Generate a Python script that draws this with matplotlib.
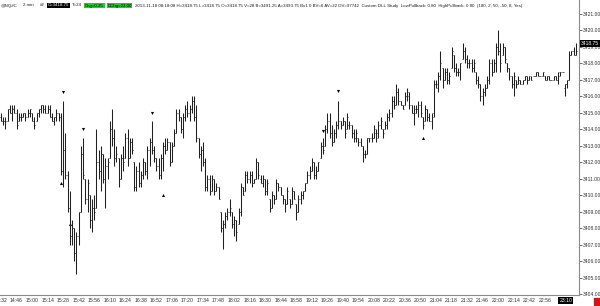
import matplotlib
matplotlib.use('Agg')
import matplotlib.pyplot as plt
from matplotlib.patches import Rectangle
from datetime import datetime, timedelta
import numpy as np

plt.rcParams['font.family'] = ['Liberation Sans', 'DejaVu Sans']

# 2 min bars, 14:32 - 22:14 then 22:30 - 23:24 (maintenance break)
opens = [
    3414.75, 3414.5, 3414.5, 3414.5, 3415.25, 3415.0, 3415.25, 3415.0, 3414.5, 3414.75,
    3414.75, 3415.0, 3414.75, 3415.0, 3415.0, 3414.5, 3414.5, 3415.0, 3415.25, 3415.5,
    3415.25, 3415.0, 3415.25, 3414.75, 3414.5, 3414.75, 3415.0, 3414.75, 3411.5, 3412.75,
    3411.25, 3409.25, 3407.5, 3408.0, 3406.5, 3407.5, 3409.0, 3412.5, 3411.0, 3409.75,
    3410.0, 3408.5, 3409.25, 3409.25, 3412.0, 3411.5, 3412.5, 3411.0, 3411.75, 3412.25,
    3414.0, 3413.5, 3412.25, 3412.25, 3411.0, 3412.25, 3412.25, 3413.5, 3412.25, 3413.25,
    3412.0, 3410.5, 3411.5, 3410.75, 3411.25, 3412.0, 3411.5, 3412.75, 3413.25, 3412.75,
    3412.25, 3411.75, 3411.25, 3412.25, 3413.0, 3412.75, 3413.25, 3412.0, 3413.0, 3413.75,
    3415.0, 3414.75, 3414.0, 3414.75, 3415.25, 3415.0, 3415.25, 3415.75, 3414.75, 3413.5,
    3412.5, 3412.75, 3412.0, 3410.5, 3411.0, 3410.25, 3411.0, 3410.25, 3410.5, 3409.0,
    3408.0, 3408.25, 3408.75, 3409.0, 3409.0, 3408.25, 3408.5, 3408.25, 3409.0, 3410.5,
    3410.25, 3411.25, 3411.0, 3411.25, 3410.75, 3411.0, 3412.0, 3411.0, 3410.75, 3411.0,
    3410.25, 3409.75, 3409.25, 3410.0, 3409.75, 3410.75, 3410.5, 3410.0, 3409.75, 3409.5,
    3409.75, 3409.5, 3410.25, 3409.5, 3409.0, 3409.75, 3410.0, 3410.25, 3410.75, 3411.25,
    3411.5, 3412.0, 3411.25, 3411.5, 3412.25, 3413.0, 3413.0, 3414.0, 3414.5, 3413.75,
    3413.25, 3413.75, 3414.25, 3414.5, 3414.25, 3414.5, 3414.0, 3414.25, 3414.25, 3413.75,
    3413.5, 3413.5, 3413.25, 3413.0, 3412.5, 3412.5, 3413.5, 3413.5, 3413.5, 3413.75,
    3413.75, 3414.25, 3414.0, 3414.0, 3414.25, 3414.75, 3415.0, 3415.75, 3415.5, 3416.25,
    3415.75, 3415.5, 3415.5, 3416.0, 3416.0, 3415.5, 3415.0, 3415.0, 3415.25, 3415.5,
    3414.75, 3414.5, 3415.25, 3414.75, 3414.5, 3415.0, 3416.75, 3416.5, 3417.25, 3417.75,
    3417.0, 3417.5, 3417.0, 3417.75, 3418.5, 3417.75, 3417.5, 3417.5, 3418.25, 3418.75,
    3418.25, 3418.0, 3418.0, 3417.75, 3417.5, 3417.0, 3416.75, 3416.0, 3416.25, 3416.5,
    3417.0, 3418.0, 3417.5, 3418.0, 3419.0, 3418.75, 3418.5, 3419.0, 3418.0, 3417.75,
    3417.25, 3416.75, 3417.0, 3416.75, 3417.0, 3416.75, 3417.0, 3417.25, 3417.0, 3417.25,
    3417.25, 3417.25, 3417.5, 3417.25, 3417.25, 3417.25, 3417.0, 3417.25, 3417.0, 3417.0,
    3417.25, 3417.0, 3417.5, 3417.5, 3416.5, 3416.75, 3417.0, 3418.5, 3418.75, 3418.5,
]
highs = [
    3415.0, 3414.75, 3414.75, 3415.25, 3415.5, 3415.5, 3415.5, 3415.25, 3415.0, 3415.0,
    3415.0, 3415.0, 3415.25, 3415.25, 3415.0, 3414.75, 3415.0, 3415.25, 3415.5, 3415.5,
    3415.5, 3415.5, 3415.5, 3415.0, 3414.75, 3415.25, 3415.0, 3415.0, 3415.75, 3413.75,
    3411.5, 3410.25, 3408.5, 3408.0, 3407.75, 3409.0, 3413.0, 3413.5, 3411.0, 3411.0,
    3410.0, 3409.75, 3410.0, 3414.0, 3412.75, 3413.0, 3412.5, 3412.25, 3412.25, 3414.5,
    3415.25, 3414.0, 3413.0, 3412.25, 3412.5, 3413.0, 3413.75, 3414.0, 3413.5, 3413.5,
    3412.0, 3411.75, 3412.0, 3411.5, 3412.25, 3412.0, 3413.0, 3413.5, 3414.5, 3413.0,
    3412.25, 3412.25, 3412.5, 3413.25, 3413.5, 3413.5, 3413.25, 3413.25, 3414.0, 3415.25,
    3415.25, 3414.75, 3415.0, 3415.5, 3415.75, 3415.5, 3416.0, 3416.0, 3415.5, 3413.5,
    3413.0, 3413.25, 3412.25, 3411.25, 3411.25, 3411.25, 3411.0, 3410.75, 3410.5, 3409.0,
    3408.5, 3409.0, 3409.25, 3409.75, 3409.0, 3408.75, 3408.5, 3409.25, 3410.75, 3410.5,
    3411.5, 3411.5, 3411.5, 3411.5, 3411.0, 3412.25, 3412.0, 3411.25, 3411.25, 3411.0,
    3411.0, 3409.75, 3410.25, 3410.0, 3411.0, 3410.75, 3410.5, 3410.0, 3409.75, 3410.5,
    3409.75, 3410.5, 3410.25, 3409.5, 3410.0, 3410.25, 3410.25, 3410.75, 3411.5, 3411.75,
    3412.25, 3412.0, 3411.75, 3412.0, 3413.25, 3413.5, 3414.25, 3415.0, 3415.0, 3414.25,
    3414.0, 3414.5, 3415.75, 3414.5, 3414.75, 3414.5, 3415.0, 3414.5, 3414.25, 3414.0,
    3414.0, 3413.5, 3413.5, 3413.0, 3412.75, 3413.5, 3413.5, 3413.75, 3414.25, 3414.0,
    3414.5, 3414.75, 3414.0, 3414.5, 3415.0, 3415.25, 3416.0, 3416.0, 3416.75, 3416.5,
    3415.75, 3415.5, 3416.25, 3416.5, 3416.25, 3415.5, 3415.5, 3415.5, 3415.75, 3415.75,
    3414.75, 3415.5, 3415.25, 3415.0, 3415.0, 3417.0, 3417.0, 3417.5, 3418.75, 3417.75,
    3417.75, 3417.75, 3417.5, 3419.0, 3418.5, 3418.0, 3417.75, 3418.0, 3419.25, 3419.0,
    3418.5, 3418.25, 3418.25, 3418.25, 3417.5, 3417.25, 3416.75, 3416.5, 3416.75, 3417.25,
    3418.25, 3418.25, 3418.25, 3419.25, 3420.0, 3419.25, 3419.25, 3419.0, 3418.0, 3417.75,
    3417.25, 3417.5, 3417.0, 3417.25, 3417.0, 3417.0, 3417.25, 3417.25, 3417.25, 3417.25,
    3417.25, 3417.5, 3417.5, 3417.25, 3417.5, 3417.25, 3417.25, 3417.25, 3417.0, 3417.25,
    3417.25, 3417.5, 3417.5, 3417.5, 3416.75, 3417.0, 3418.75, 3418.75, 3419.0, 3419.25,
]
lows = [
    3414.5, 3414.25, 3414.0, 3414.5, 3415.0, 3414.5, 3415.0, 3414.0, 3414.5, 3414.5,
    3414.75, 3414.5, 3414.75, 3414.75, 3414.5, 3414.0, 3414.5, 3414.75, 3415.0, 3415.0,
    3415.0, 3415.0, 3414.75, 3414.5, 3414.25, 3414.5, 3414.5, 3411.25, 3410.5, 3411.0,
    3409.0, 3407.0, 3407.0, 3406.0, 3405.25, 3407.0, 3409.0, 3411.0, 3409.5, 3409.0,
    3408.0, 3407.75, 3408.5, 3409.25, 3411.0, 3410.25, 3410.75, 3409.25, 3411.0, 3412.25,
    3413.0, 3411.75, 3412.0, 3410.5, 3411.0, 3411.5, 3412.25, 3411.75, 3412.25, 3412.5,
    3410.25, 3410.25, 3410.5, 3410.5, 3411.0, 3411.25, 3411.0, 3411.75, 3412.5, 3412.0,
    3411.5, 3411.0, 3411.0, 3411.5, 3412.5, 3412.75, 3411.75, 3412.0, 3413.0, 3413.75,
    3414.5, 3413.75, 3413.5, 3414.5, 3414.75, 3414.5, 3415.0, 3414.5, 3413.25, 3412.25,
    3411.5, 3411.75, 3410.25, 3410.25, 3410.0, 3410.25, 3410.0, 3410.25, 3409.75, 3407.75,
    3406.75, 3408.0, 3408.5, 3408.75, 3408.0, 3407.5, 3407.25, 3408.25, 3408.75, 3410.0,
    3410.25, 3410.75, 3410.75, 3410.5, 3410.75, 3411.0, 3411.0, 3410.75, 3410.5, 3410.0,
    3410.0, 3409.0, 3409.25, 3409.5, 3409.75, 3410.25, 3410.0, 3409.5, 3409.0, 3409.5,
    3409.25, 3409.5, 3409.75, 3408.5, 3409.0, 3409.5, 3409.75, 3410.25, 3410.75, 3411.0,
    3411.5, 3411.0, 3411.0, 3411.5, 3412.25, 3412.5, 3413.0, 3413.75, 3413.5, 3413.0,
    3413.25, 3413.5, 3414.0, 3414.0, 3414.25, 3413.5, 3414.0, 3414.0, 3413.5, 3413.25,
    3413.25, 3413.0, 3413.0, 3412.0, 3412.25, 3412.5, 3413.25, 3413.25, 3413.5, 3413.25,
    3413.5, 3414.0, 3413.5, 3414.0, 3414.0, 3414.5, 3414.75, 3415.25, 3415.5, 3415.5,
    3415.5, 3415.25, 3415.5, 3415.75, 3415.25, 3415.0, 3414.25, 3415.0, 3414.75, 3414.75,
    3414.0, 3414.5, 3414.5, 3414.5, 3414.0, 3414.75, 3416.5, 3416.25, 3417.0, 3416.5,
    3417.0, 3416.75, 3416.75, 3417.75, 3417.5, 3417.25, 3417.25, 3417.0, 3418.25, 3418.0,
    3417.75, 3417.75, 3417.5, 3417.5, 3416.75, 3416.5, 3415.75, 3415.5, 3416.0, 3416.5,
    3416.75, 3417.25, 3417.5, 3417.5, 3418.5, 3417.5, 3418.5, 3418.0, 3417.5, 3417.0,
    3416.5, 3416.0, 3416.5, 3416.75, 3416.75, 3416.75, 3417.0, 3416.75, 3417.0, 3417.0,
    3417.25, 3417.25, 3417.25, 3417.25, 3417.25, 3417.0, 3417.0, 3417.0, 3417.0, 3417.0,
    3417.0, 3416.75, 3417.25, 3417.5, 3416.0, 3416.5, 3417.0, 3418.5, 3418.5, 3418.5,
]
closes = [
    3414.5, 3414.5, 3414.5, 3415.25, 3415.0, 3415.25, 3415.0, 3414.25, 3414.75, 3414.75,
    3415.0, 3414.75, 3415.0, 3415.25, 3414.5, 3414.25, 3415.0, 3415.25, 3415.5, 3415.25,
    3415.0, 3415.25, 3414.75, 3414.5, 3414.75, 3415.0, 3414.75, 3411.5, 3412.75, 3411.25,
    3409.25, 3407.5, 3408.0, 3406.5, 3407.5, 3409.0, 3412.5, 3411.25, 3409.75, 3410.75,
    3408.5, 3409.25, 3409.0, 3412.0, 3411.5, 3412.5, 3411.0, 3411.75, 3412.0, 3414.0,
    3413.5, 3412.25, 3412.5, 3411.0, 3412.25, 3412.0, 3413.5, 3412.25, 3413.25, 3412.75,
    3410.5, 3411.5, 3410.75, 3411.25, 3412.0, 3411.5, 3412.75, 3413.25, 3412.75, 3412.25,
    3411.75, 3411.25, 3412.25, 3413.0, 3412.75, 3413.25, 3412.0, 3413.0, 3413.75, 3415.0,
    3414.75, 3414.0, 3414.75, 3415.25, 3415.0, 3415.25, 3415.75, 3414.75, 3413.5, 3412.5,
    3412.75, 3412.0, 3410.5, 3411.0, 3410.25, 3411.0, 3410.25, 3410.5, 3409.75, 3408.0,
    3408.25, 3408.75, 3409.0, 3409.25, 3408.25, 3408.5, 3407.75, 3409.0, 3410.5, 3410.0,
    3411.25, 3411.0, 3411.25, 3410.75, 3411.0, 3412.0, 3411.25, 3410.75, 3411.0, 3410.25,
    3410.75, 3409.25, 3410.0, 3409.75, 3410.75, 3410.5, 3410.0, 3409.75, 3409.5, 3410.25,
    3409.5, 3410.25, 3409.75, 3409.0, 3409.75, 3410.0, 3410.25, 3410.75, 3411.25, 3411.5,
    3412.0, 3411.25, 3411.5, 3412.0, 3413.0, 3412.75, 3414.0, 3414.5, 3413.75, 3413.25,
    3413.75, 3414.25, 3414.5, 3414.25, 3414.5, 3413.75, 3414.75, 3414.25, 3413.75, 3413.5,
    3413.75, 3413.25, 3413.0, 3412.5, 3412.5, 3413.5, 3413.5, 3413.5, 3414.0, 3413.5,
    3414.25, 3414.5, 3413.75, 3414.25, 3414.75, 3415.0, 3415.75, 3415.5, 3416.25, 3415.75,
    3415.5, 3415.25, 3416.0, 3416.25, 3415.5, 3415.0, 3415.25, 3415.25, 3415.5, 3415.0,
    3414.25, 3415.25, 3414.75, 3414.5, 3414.75, 3416.75, 3416.75, 3417.25, 3418.0, 3417.0,
    3417.5, 3417.0, 3417.25, 3418.75, 3417.75, 3417.5, 3417.5, 3418.0, 3418.75, 3418.25,
    3418.0, 3418.0, 3417.75, 3418.0, 3417.0, 3416.75, 3416.0, 3416.25, 3416.5, 3417.0,
    3418.0, 3417.5, 3418.0, 3419.0, 3418.75, 3418.0, 3419.0, 3418.25, 3417.75, 3417.25,
    3416.75, 3417.25, 3416.75, 3417.0, 3416.75, 3417.0, 3417.25, 3417.0, 3417.25, 3417.0,
    3417.25, 3417.5, 3417.25, 3417.25, 3417.5, 3417.0, 3417.25, 3417.0, 3417.0, 3417.25,
    3417.0, 3417.25, 3417.5, 3417.5, 3416.75, 3417.0, 3418.5, 3418.75, 3418.5, 3418.75,
]

# study markers (bar index, price)
down_bars = [28, 37, 68, 145, 152]
down_prices = [3416.25, 3414.0, 3415.0, 3413.9, 3416.3]
up_bars = [27, 31, 73, 190]
up_prices = [3410.75, 3408.25, 3410.0, 3413.5]

time_labels = ['14:32', '14:46', '15:00', '15:14', '15:28', '15:42', '15:56', '16:10',
               '16:24', '16:38', '16:52', '17:06', '17:20', '17:34', '17:48', '18:02',
               '18:16', '18:30', '18:44', '18:58', '19:12', '19:26', '19:40', '19:54',
               '20:08', '20:22', '20:36', '20:50', '21:04', '21:18', '21:32', '21:46',
               '22:00', '22:14', '22:42', '22:56']
current_time = '23:10'
last_price = '3418.75'

# header pieces: (text, box colour)
header = [
    ('@NQ#C', None), ('2 min', None), ('#2', None), ('C=3418.75', 'black'),
    ('T=24', None), ('Chg=0.25', '#22cc22'), ('DChg=23.00', '#22cc22'),
    ('2013-11-18 08:18:08 H=3418.75 L=3418.75 O=3418.75 V=28 B=3491.25 A=3493.75 '
     'Bx1 0 BV=6 AV=22 DV=97742  Custom DLL Study  LowPullback: 0.80  '
     'HighPullback: 0.80  (180, 2, 50, -50, 8, Yes)', None),
]
header_gaps = [1.3, 1.3, 0.7, 0.5, 0.7, 0.7, 0.6, 0]

# bar times
bar_times = []
t = datetime(2013, 11, 18, 14, 32)
while len(bar_times) < len(closes):
    bar_times.append(t.strftime('%H:%M'))
    t += timedelta(minutes=2)
    if t.strftime('%H:%M') == '22:16':
        t = datetime(2013, 11, 18, 22, 30)

x = np.arange(len(closes))

W, H = 600, 306
fig = plt.figure(figsize=(W / 100, H / 100), dpi=100)
ax = fig.add_axes([0, 1 - 295 / H, 579 / W, 295 / H])

ax.vlines(x, lows, highs, color='#202020', lw=0.75)
ax.hlines(opens, x - 0.45, x, color='#202020', lw=0.6)
ax.hlines(closes, x, x + 0.45, color='#202020', lw=0.6)

ax.scatter(down_bars, down_prices, marker='v', s=5, color='black', lw=0)
ax.scatter(up_bars, up_prices, marker='^', s=5, color='black', lw=0)

ax.set_xlim(-0.45, 260.4)
ax.set_ylim(3403.95, 3421.85)

ax.set_xticks([bar_times.index(s) for s in time_labels])
ax.set_xticklabels(time_labels)
ax.yaxis.tick_right()
ax.set_yticks(np.arange(3404, 3422))
ax.set_yticklabels(['%.2f' % v for v in np.arange(3404, 3422)])
ax.tick_params(axis='y', labelsize=3.6, colors='#303030', length=2, width=0.5, pad=0.8)
ax.tick_params(axis='x', labelsize=3.7, colors='#303030', length=0, pad=2.4)

for s in ['left', 'top']:
    ax.spines[s].set_visible(False)
for s in ['right', 'bottom']:
    ax.spines[s].set_color('#8a8a8a')
    ax.spines[s].set_linewidth(0.8)

# last price / current bar time boxes
ax.text(1.003, 3419.2, last_price, transform=ax.get_yaxis_transform(), fontsize=3.6,
        color='white', va='center', ha='left',
        bbox=dict(facecolor='black', edgecolor='none', pad=0.7))
ax.text(254.5, -0.018, current_time, transform=ax.get_xaxis_transform(), fontsize=3.7,
        color='white', va='center', ha='center',
        bbox=dict(facecolor='black', edgecolor='none', pad=0.7))
fig.patches.append(Rectangle((594 / W, 1 - 305 / H), 6 / W, 7 / H,
                             transform=fig.transFigure, color='#e01010'))

# header line, laid out left to right and scaled so it ends near x=528
hy = 1 - 5.5 / H
fs0 = 4.0
texts = []
for s, bg in header:
    kw = dict(fontsize=fs0, va='center', color='#1a1a1a')
    if bg is not None:
        kw['color'] = 'white' if bg == 'black' else 'black'
        kw['bbox'] = dict(facecolor=bg, edgecolor='none', pad=0.6)
    texts.append(fig.text(0, hy, s, **kw))
r = fig.canvas.get_renderer()
widths = [tx.get_window_extent(renderer=r).width for tx in texts]
em = fs0 * 100 / 72
total = sum(widths) + sum(g * em for g in header_gaps)
k = 527 / total
xpos = 1
for tx, w, g in zip(texts, widths, header_gaps):
    tx.set_fontsize(fs0 * k)
    tx.set_x(xpos / W)
    xpos += (w + g * em) * k

fig.savefig('out.png', dpi=100)
